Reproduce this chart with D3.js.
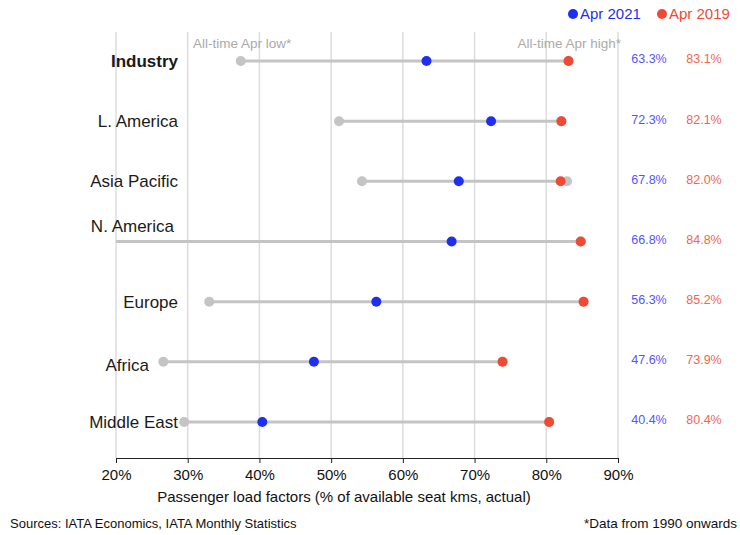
<!DOCTYPE html>
<html>
<head>
<meta charset="utf-8">
<script src="https://cdn.jsdelivr.net/npm/d3@7"></script>
<style>
  body { margin: 0; background: #fff; }
  svg text { font-family: "Liberation Sans Narrow", "Arial Narrow", "Liberation Sans", sans-serif; }
  .cat { font-family: "Liberation Sans", Arial, sans-serif; font-size: 17px; fill: #1a1a1a; }
</style>
</head>
<body>
<script>
const regions = ['Industry', 'L. America', 'Asia Pacific', 'N. America', 'Europe', 'Africa', 'Middle East'];
const apr2021 = [63.3, 72.3, 67.8, 66.8, 56.3, 47.6, 40.4];
const apr2019 = [83.1, 82.1, 82.0, 84.8, 85.2, 73.9, 80.4];
const allTimeLow = [37.4, 51.1, 54.3, 15.0, 33.0, 26.6, 29.5];
const allTimeHigh = [83.1, 82.1, 82.9, 84.8, 85.2, 73.9, 80.4];
const xTicks = [20, 30, 40, 50, 60, 70, 80, 90];

const width = 740, height = 535;
const blue = "#1f2ff0", red = "#f04a35", grey = "#c4c4c4";

const svg = d3.select("body").append("svg")
    .attr("width", width)
    .attr("height", height);

const x = d3.scaleLinear().domain([20, 90]).range([116, 618]);
const y = d3.scalePoint().domain(regions).range([61, 422]);

// vertical gridlines
svg.append("g").selectAll("line")
    .data(xTicks)
    .enter().append("line")
    .attr("x1", d => x(d)).attr("x2", d => x(d))
    .attr("y1", 32).attr("y2", 458)
    .attr("stroke", "#dcdcdc")
    .attr("stroke-width", 1.5);

// x axis
const axis = svg.append("g")
    .attr("transform", "translate(0,458)")
    .call(d3.axisBottom(x).tickValues(xTicks).tickFormat(d => d + "%").tickSize(5).tickSizeOuter(0));
axis.select(".domain").attr("stroke", "#222");
axis.selectAll(".tick line").attr("stroke", "#222");
axis.selectAll(".tick text")
    .attr("dy", "0.95em")
    .attr("font-size", 15)
    .attr("fill", "#111")
    .style("font-family", "'Liberation Sans Narrow', 'Arial Narrow', 'Liberation Sans', sans-serif");

svg.append("text")
    .attr("x", 344).attr("y", 502)
    .attr("text-anchor", "middle")
    .attr("font-size", 15)
    .attr("fill", "#111")
    .text("Passenger load factors (% of available seat kms, actual)");

// range lines (clipped to plot area)
const rows = regions.map((r, i) => ({
    region: r, now: apr2021[i], pre: apr2019[i], low: allTimeLow[i], high: allTimeHigh[i]
}));

svg.append("defs").append("clipPath").attr("id", "plotclip")
    .append("rect").attr("x", x(20)).attr("y", 0).attr("width", x(90) - x(20) + 10).attr("height", height);

const plot = svg.append("g").attr("clip-path", "url(#plotclip)");

plot.selectAll(".range")
    .data(rows)
    .enter().append("line")
    .attr("x1", d => x(d.low))
    .attr("x2", d => x(Math.max(d.high, d.pre)))
    .attr("y1", d => y(d.region)).attr("y2", d => y(d.region))
    .attr("stroke", grey)
    .attr("stroke-width", 3);

plot.selectAll(".lowdot")
    .data(rows)
    .enter().append("circle")
    .attr("cx", d => x(d.low)).attr("cy", d => y(d.region))
    .attr("r", 5).attr("fill", grey);

plot.selectAll(".highdot")
    .data(rows)
    .enter().append("circle")
    .attr("cx", d => x(d.high)).attr("cy", d => y(d.region))
    .attr("r", 5).attr("fill", grey);

plot.selectAll(".predot")
    .data(rows)
    .enter().append("circle")
    .attr("cx", d => x(d.pre)).attr("cy", d => y(d.region))
    .attr("r", 5).attr("fill", red);

plot.selectAll(".nowdot")
    .data(rows)
    .enter().append("circle")
    .attr("cx", d => x(d.now)).attr("cy", d => y(d.region))
    .attr("r", 5).attr("fill", blue);

// category labels, a few sit a bit off their line like in the original
const nudge = { 'N. America': [-4, -15], 'Africa': [-29, 3] };
svg.selectAll(".cat")
    .data(regions)
    .enter().append("text")
    .attr("class", "cat")
    .attr("x", d => 178 + (nudge[d] ? nudge[d][0] : 0))
    .attr("y", d => y(d) + (nudge[d] ? nudge[d][1] : 0))
    .attr("dy", "0.35em")
    .attr("text-anchor", "end")
    .attr("font-weight", d => d === 'Industry' ? "bold" : null)
    .text(d => d);

// value columns
svg.selectAll(".v21")
    .data(rows)
    .enter().append("text")
    .attr("x", 649).attr("y", d => y(d.region) - 2)
    .attr("dy", "0.35em")
    .attr("text-anchor", "middle")
    .attr("font-size", 12.5)
    .attr("fill", "#5555ff")
    .text(d => d.now.toFixed(1) + "%");

svg.selectAll(".v19")
    .data(rows)
    .enter().append("text")
    .attr("x", 704).attr("y", d => y(d.region) - 2)
    .attr("dy", "0.35em")
    .attr("text-anchor", "middle")
    .attr("font-size", 12.5)
    .attr("fill", "#f2664f")
    .text(d => d.pre.toFixed(1) + "%");

// annotations
svg.append("text")
    .attr("x", 193).attr("y", 48)
    .attr("font-size", 13.5).attr("fill", "#aaa")
    .text("All-time Apr low*");
svg.append("text")
    .attr("x", 621).attr("y", 48)
    .attr("text-anchor", "end")
    .attr("font-size", 13.5).attr("fill", "#aaa")
    .text("All-time Apr high*");

// legend
const legend = svg.append("g");
[["Apr 2021", blue, 573], ["Apr 2019", red, 662]].forEach(([label, c, lx]) => {
    legend.append("circle").attr("cx", lx).attr("cy", 14).attr("r", 5).attr("fill", c);
    legend.append("text").attr("x", lx + 7).attr("y", 14).attr("dy", "0.35em")
        .attr("font-size", 15).attr("fill", c).text(label);
});

// footer
svg.append("text")
    .attr("x", 10).attr("y", 528)
    .attr("font-size", 13).attr("fill", "#111")
    .text("Sources: IATA Economics, IATA Monthly Statistics");
svg.append("text")
    .attr("x", 737).attr("y", 528)
    .attr("text-anchor", "end")
    .attr("font-size", 13.5).attr("fill", "#111")
    .text("*Data from 1990 onwards");
</script>
</body>
</html>
